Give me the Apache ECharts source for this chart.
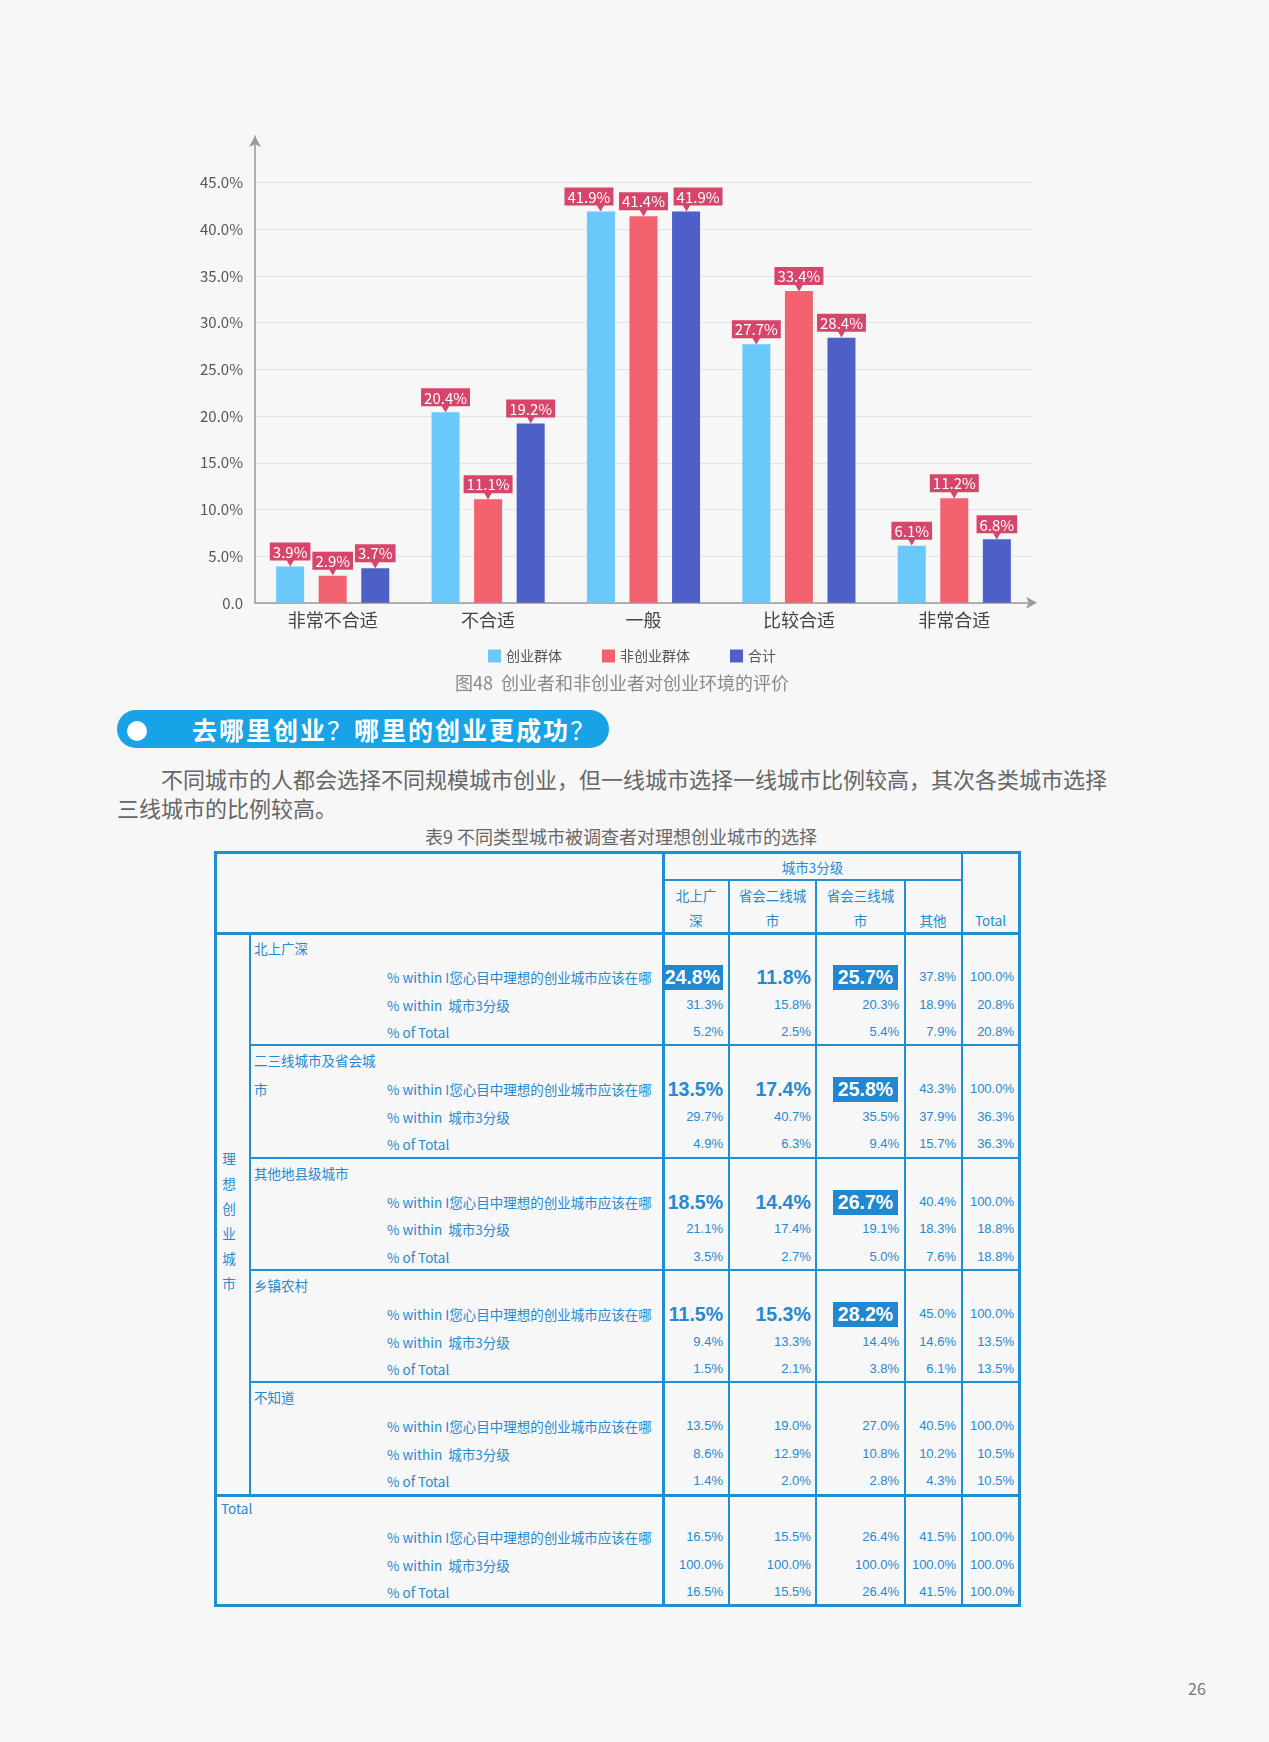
<!DOCTYPE html>
<html><head><meta charset="utf-8">
<script src="https://cdn.jsdelivr.net/npm/echarts@6/dist/echarts.min.js"></script>
<style>
html,body{margin:0;padding:0;background:#f7f7f7;}
#page{position:relative;width:1269px;height:1742px;background:#f7f7f7;overflow:hidden;font-family:"Noto Sans CJK SC","Noto Sans",sans-serif;}
#chart{position:absolute;left:0;top:0;width:1269px;height:700px;}
.abs{position:absolute;white-space:pre;}
.tc{color:#2789cf;font-size:13.5px;}
.num{font-family:"Liberation Sans",Arial,sans-serif;}
</style></head>
<body><div id="page">
<div id="chart"></div>
<div class="abs" style="left:0;width:1244px;text-align:center;top:669px;font-size:18px;color:#8a8a8a;">图48&nbsp;&nbsp;创业者和非创业者对创业环境的评价</div>
<div class="abs" style="left:117px;top:710px;width:492px;height:38px;border-radius:19px;background:#17a3e6;"></div>
<div class="abs" style="left:127px;top:721px;width:20px;height:20px;border-radius:10px;background:#fff;"></div>
<div class="abs" style="left:192px;top:710px;height:38px;line-height:38px;font-size:25px;letter-spacing:2px;font-weight:bold;color:#fff;">去哪里创业<span style="font-weight:normal">？</span>哪里的创业更成功<span style="font-weight:normal">？</span></div>
<div class="abs" style="left:117px;top:764px;font-size:22px;line-height:29px;color:#666;"><span style="display:inline-block;width:44px"></span>不同城市的人都会选择不同规模城市创业，但一线城市选择一线城市比例较高，其次各类城市选择<br>三线城市的比例较高。</div>
<div class="abs" style="left:0;width:1242px;text-align:center;top:823px;font-size:18px;color:#666;">表9 不同类型城市被调查者对理想创业城市的选择</div>
<div id="table"></div>
<div class="abs" style="left:1188px;top:1676px;font-size:16px;color:#777;">26</div>
</div>
<script>
// ---------- chart data ----------
const categories = ['非常不合适', '不合适', '一般', '比较合适', '非常合适'];
const seriesNames = ['创业群体', '非创业群体', '合计'];
const entrepreneurs = [3.9, 20.4, 41.9, 27.7, 6.1];
const nonEntrepreneurs = [2.9, 11.1, 41.4, 33.4, 11.2];
const overall = [3.7, 19.2, 41.9, 28.4, 6.8];
const seriesColors = ['#6ac8fb', '#f2626e', '#4f5fc8'];

// ---------- table data ----------
const tableTitle = '城市3分级';
const colHeaderLines = [['北上广', '深'], ['省会二线城', '市'], ['省会三线城', '市'], ['其他'], ['Total']];
const sideTitle = ['理', '想', '创', '业', '城', '市'];
const groupLabelLines = [['北上广深'], ['二三线城市及省会城', '市'], ['其他地县级城市'], ['乡镇农村'], ['不知道'], ['Total']];
const rowLabels = ['% within I您心目中理想的创业城市应该在哪', '% within  城市3分级', '% of Total'];
const grp1 = [[24.8, 11.8, 25.7, 37.8, 100.0], [31.3, 15.8, 20.3, 18.9, 20.8], [5.2, 2.5, 5.4, 7.9, 20.8]];
const grp2 = [[13.5, 17.4, 25.8, 43.3, 100.0], [29.7, 40.7, 35.5, 37.9, 36.3], [4.9, 6.3, 9.4, 15.7, 36.3]];
const grp3 = [[18.5, 14.4, 26.7, 40.4, 100.0], [21.1, 17.4, 19.1, 18.3, 18.8], [3.5, 2.7, 5.0, 7.6, 18.8]];
const grp4 = [[11.5, 15.3, 28.2, 45.0, 100.0], [9.4, 13.3, 14.4, 14.6, 13.5], [1.5, 2.1, 3.8, 6.1, 13.5]];
const grp5 = [[13.5, 19.0, 27.0, 40.5, 100.0], [8.6, 12.9, 10.8, 10.2, 10.5], [1.4, 2.0, 2.8, 4.3, 10.5]];
const grpTotal = [[16.5, 15.5, 26.4, 41.5, 100.0], [100.0, 100.0, 100.0, 100.0, 100.0], [16.5, 15.5, 26.4, 41.5, 100.0]];
const highlightedCells = [[0, 0], [0, 2], [1, 2], [2, 2], [3, 2]]; // [group, col] in first row
const boldGroups = 4; // first row, first 3 cols of first 4 groups are bold

// ---------- chart ----------
const chart = echarts.init(document.getElementById('chart'));
const labelBg = '#d6456a';
// label boxes nudged sideways to avoid overlap: [seriesIndex, dataIndex, dx]
const labelNudges = [[0, 2, -12], [2, 2, 12]];
function mkSeries(si, name, data, color) {
  const items = data.map((v, di) => {
    const n = labelNudges.find(k => k[0] === si && k[1] === di);
    if (!n) return v;
    const dx = n[2];
    return {
      value: v,
      label: {
        offset: [dx, 0],
        rich: {
          box: { backgroundColor: labelBg, color: '#fff', fontSize: 15, padding: [2, 3, 1, 3], lineHeight: 18, fontFamily: 'Noto Sans CJK SC' },
          tri: dx < 0
            ? { color: labelBg, fontSize: 8, lineHeight: 5, align: 'right', padding: [0, 9, 0, 0] }
            : { color: labelBg, fontSize: 8, lineHeight: 5, align: 'left', padding: [0, 0, 0, 9] }
        }
      }
    };
  });
  return {
    name: name, type: 'bar', data: items, barWidth: 28, barGap: '52%',
    itemStyle: { color: color },
    label: {
      show: true, position: 'top', distance: 1,
      formatter: p => '{box|' + p.value.toFixed(1) + '%}\n{tri|▼}',
      rich: {
        box: { backgroundColor: labelBg, color: '#fff', fontSize: 15, padding: [2, 3, 1, 3], lineHeight: 18, fontFamily: 'Noto Sans CJK SC' },
        tri: { color: labelBg, fontSize: 8, lineHeight: 5, align: 'center' }
      }
    }
  };
}
const splitColors = [];
for (let i = 0; i < 10; i++) splitColors.push('#e3e3e3');
splitColors.push('rgba(0,0,0,0)');
chart.setOption({
  animation: false,
  textStyle: { fontFamily: 'Noto Sans CJK SC' },
  grid: { left: 255, right: 237, top: 136, bottom: 97.2 },
  legend: {
    data: seriesNames, left: 483, top: 644, itemWidth: 13, itemHeight: 13, itemGap: 40, icon: 'rect',
    textStyle: { fontSize: 14, color: '#555' }
  },
  xAxis: {
    type: 'category', data: categories,
    axisLine: { lineStyle: { color: '#9a9a9a', width: 1.5 }, symbol: ['none', 'arrow'], symbolSize: [9, 11], symbolOffset: [0, 5] },
    axisTick: { show: false },
    axisLabel: { fontSize: 18, color: '#444', margin: 8 }
  },
  yAxis: {
    type: 'value', min: 0, max: 50, interval: 5,
    axisLine: { show: true, lineStyle: { color: '#9a9a9a', width: 1.5 }, symbol: ['none', 'arrow'], symbolSize: [9, 11] },
    axisTick: { show: false },
    axisLabel: { fontSize: 15, color: '#555', margin: 12, formatter: v => v === 0 ? '0.0' : (v >= 50 ? '' : v.toFixed(1) + '%') },
    splitLine: { lineStyle: { color: splitColors, width: 1 } }
  },
  series: [
    mkSeries(0, seriesNames[0], entrepreneurs, seriesColors[0]),
    mkSeries(1, seriesNames[1], nonEntrepreneurs, seriesColors[1]),
    mkSeries(2, seriesNames[2], overall, seriesColors[2])
  ]
});

// ---------- table ----------
const T = document.getElementById('table');
const L = 214, R = 1021, TOP = 851, BOT = 1607;
const colEdges = [663.4, 728.5, 816.3, 904.6, 961.5, 1019.5];
const headerMid = 880, headerBot = 933;
const groupTops = [933, 1045.3, 1157.5, 1270, 1382.3, 1495];
const innerX = 250;
function box(style) { const d = document.createElement('div'); d.style.cssText = style; T.appendChild(d); return d; }
function hl(x1, x2, y, w) { box('position:absolute;background:#1f8fd2;left:' + x1 + 'px;width:' + (x2 - x1) + 'px;top:' + (y - w / 2) + 'px;height:' + w + 'px;'); }
function vl(x, y1, y2, w) { box('position:absolute;background:#1f8fd2;left:' + (x - w / 2) + 'px;width:' + w + 'px;top:' + y1 + 'px;height:' + (y2 - y1) + 'px;'); }
function txt(s, x, y, align, extra, cls) {
  const h = 26;
  const d = document.createElement('div');
  d.className = 'abs tc ' + (cls || '');
  let st = 'top:' + (y - h / 2) + 'px;height:' + h + 'px;line-height:' + h + 'px;';
  if (align === 'left') st += 'left:' + x + 'px;';
  else if (align === 'right') st += 'right:' + (1269 - x) + 'px;text-align:right;';
  else st += 'left:' + (x - 100) + 'px;width:200px;text-align:center;';
  d.style.cssText = st + (extra || '');
  d.innerHTML = s;
  T.appendChild(d);
  return d;
}
// outer border
box('position:absolute;border:3px solid #1f8fd2;box-sizing:border-box;left:' + L + 'px;top:' + TOP + 'px;width:' + (R - L) + 'px;height:' + (BOT - TOP) + 'px;');
vl(colEdges[0], TOP, BOT, 3);
for (let i = 1; i <= 3; i++) vl(colEdges[i], headerMid, BOT, 2);
vl(colEdges[4], TOP, BOT, 2);
hl(colEdges[0], colEdges[4], headerMid, 2);
hl(L, R, headerBot, 3);
for (let g = 1; g < 5; g++) hl(innerX, R, groupTops[g], 2);
hl(L, R, groupTops[5], 3);
vl(innerX, headerBot, groupTops[5], 2);

// headers
txt(tableTitle, (colEdges[0] + colEdges[4]) / 2, 866.7, 'center');
colHeaderLines.forEach((lines, i) => {
  const cx = (colEdges[i] + colEdges[i + 1]) / 2;
  if (lines.length === 2) { txt(lines[0], cx, 895, 'center'); txt(lines[1], cx, 920, 'center'); }
  else txt(lines[0], cx, 920, 'center');
});
sideTitle.forEach((c, i) => txt(c, 229, 1158 + i * 25, 'center'));

const groups = [grp1, grp2, grp3, grp4, grp5, grpTotal];
const rowOffsets = [44, 71.5, 99];
groups.forEach((grp, g) => {
  const gt = groupTops[g];
  const labX = g === 5 ? 221 : 254;
  const labY = g === 5 ? gt + 13 : gt + 15;
  groupLabelLines[g].forEach((s, k) => txt(s, labX, labY + k * 28.7, 'left'));
  grp.forEach((row, r) => {
    const y = gt + rowOffsets[r] - (g === 5 ? 2 : 0);
    txt(rowLabels[r], 387, y, 'left');
    row.forEach((v, c) => {
      const s = v.toFixed(1) + '%';
      const right = colEdges[c + 1] - 5.5;
      const isHi = r === 0 && highlightedCells.some(h => h[0] === g && h[1] === c);
      const isBold = r === 0 && g < boldGroups && c < 3;
      if (isHi) {
        const pad = c === 0 ? 3 : 5;
        txt('<span style="display:inline-block;background:#1f88d0;color:#fff;padding:0 ' + pad + 'px;line-height:25px;">' + s + '</span>', right - (c === 0 ? 0 : 1), y, 'right', 'font-size:19.5px;font-weight:bold;', 'num');
      } else if (isBold) {
        txt(s, right, y, 'right', 'font-size:19.5px;font-weight:bold;', 'num');
      } else {
        txt(s, right, y, 'right', 'font-size:13px;', 'num');
      }
    });
  });
});
</script>
</body></html>
